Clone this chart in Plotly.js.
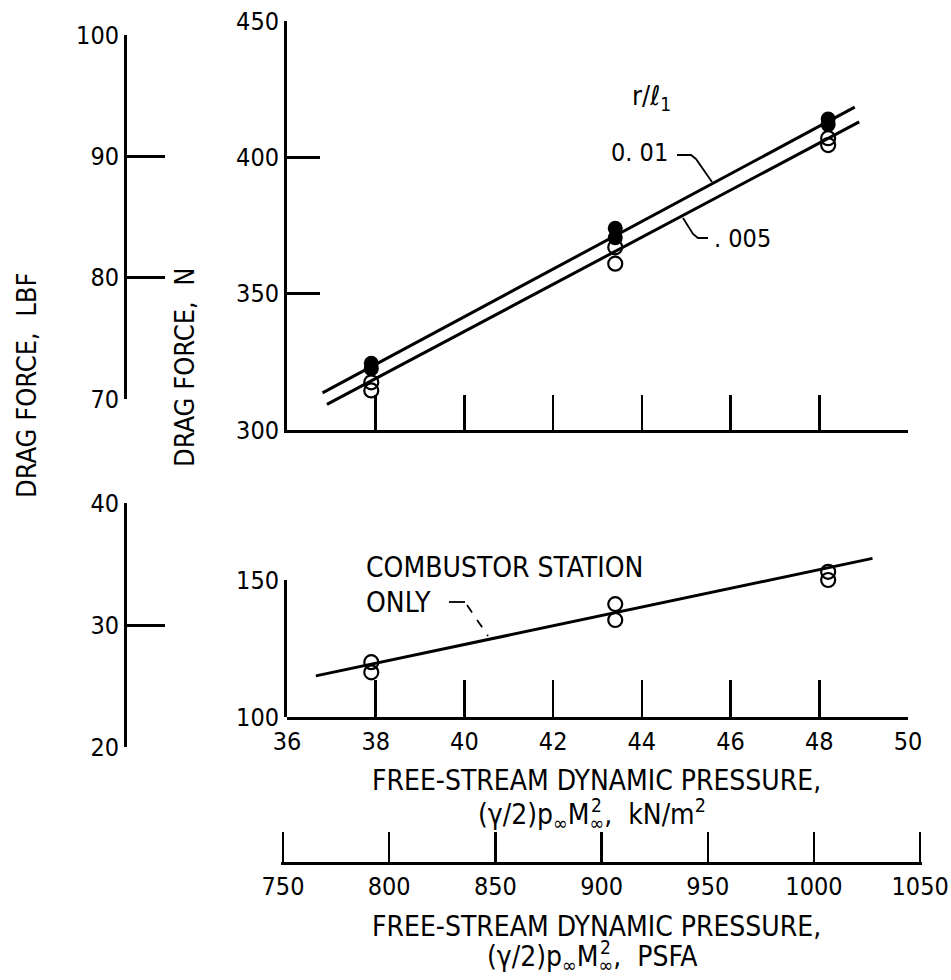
<!DOCTYPE html>
<html><head><meta charset="utf-8">
<script src="https://cdn.plot.ly/plotly-3.0.1.min.js"></script>
<style>body{margin:0;background:#fff}#chart{width:951px;height:980px}</style>
</head><body><div id="chart"></div>
<script>
// ---- tick labels ----
const kNTicks = [36, 38, 40, 42, 44, 46, 48, 50];
const psfTicks = [750, 800, 850, 900, 950, 1000, 1050];
const nTopTicks = [300, 350, 400, 450];
const nBotTicks = [100, 150];
const lbfTopTicks = [70, 80, 90, 100];
const lbfBotTicks = [20, 30, 40];

// ---- data: total drag, r/l1 = 0.01 (filled symbols) ----
const qFilled = [37.9, 37.9, 43.4, 43.4, 48.2, 48.2];
const dragFilled = [324.5, 322.5, 374, 370.5, 414, 412];
// ---- r/l1 = 0.005 (open symbols) ----
const qOpen = [37.9, 37.9, 43.4, 43.4, 48.2, 48.2];
const dragOpen = [317.5, 314.5, 367, 361, 407, 404.5];
// ---- faired lines ----
const qLine01 = [36.8, 48.8];
const dragLine01 = [313.6, 418.4];
const qLine005 = [36.9, 48.9];
const dragLine005 = [309.4, 413.0];
// ---- combustor station only ----
const qComb = [37.9, 37.9, 43.4, 43.4, 48.2, 48.2];
const dragComb = [120, 116.3, 141.2, 135.4, 153, 150];
const qCombLine = [36.65, 49.2];
const dragCombLine = [115.0, 157.9];

// ---- unit conversions ----
const N_PER_LBF = 4.44822;
const KN_PER_PSF = 0.0478803;

// ---- layout geometry (pixels) ----
const W = 951, H = 980;
const X0 = 287, X1 = 908;               // px of 36 and 50 kN/m2
const dx = p => p / W, dy = p => 1 - p / H;
const kxPx = v => X0 + (v - 36) * (X1 - X0) / 14;
const TOP300 = 430, TOPS = 2.727;
const topPx = n => TOP300 - (n - 300) * TOPS;
const BOT100 = 717, BOTS = 2.74;
const botPx = n => BOT100 - (n - 100) * BOTS;
const LBF_X = 125, PSF_Y = 863;

const FONT = "'DejaVu Sans Condensed', 'Liberation Sans Narrow', 'Liberation Sans', sans-serif";
const tickFont = {family: FONT, size: 25, color: '#000'};
const axBase = {
  showline: true, linecolor: '#000', linewidth: 3, ticks: 'inside', tickcolor: '#000',
  tickwidth: 2.5, showgrid: false, zeroline: false, fixedrange: true, tickfont: tickFont,
  tickmode: 'array'
};

const black = '#000';
const traces = [
  {x: qLine01, y: dragLine01, xaxis: 'x', yaxis: 'y', mode: 'lines', line: {color: black, width: 3}},
  {x: qLine005, y: dragLine005, xaxis: 'x', yaxis: 'y', mode: 'lines', line: {color: black, width: 3}},
  {x: qOpen, y: dragOpen, xaxis: 'x', yaxis: 'y', mode: 'markers', cliponaxis: false,
   marker: {symbol: 'circle-open', size: 14, color: black, line: {width: 2.2, color: black}}},
  {x: qFilled, y: dragFilled, xaxis: 'x', yaxis: 'y', mode: 'markers', cliponaxis: false,
   marker: {symbol: 'circle', size: 15, color: black}},
  {x: qCombLine, y: dragCombLine, xaxis: 'x2', yaxis: 'y3', mode: 'lines', line: {color: black, width: 3}},
  {x: qComb, y: dragComb, xaxis: 'x2', yaxis: 'y3', mode: 'markers', cliponaxis: false,
   marker: {symbol: 'circle-open', size: 14, color: black, line: {width: 2.2, color: black}}},
  // empty traces to register the secondary scales
  {x: [], y: [], xaxis: 'x', yaxis: 'y2', mode: 'markers'},
  {x: [], y: [], xaxis: 'x2', yaxis: 'y4', mode: 'markers'},
  {x: [], y: [], xaxis: 'x2', yaxis: 'y5', mode: 'markers'},
  {x: [], y: [], xaxis: 'x3', yaxis: 'y', mode: 'markers'}
];

const pathPx = pts => pts.map((p, i) => (i ? 'L' : 'M') + dx(p[0]).toFixed(5) + ',' + dy(p[1]).toFixed(5)).join(' ');
const lineShape = (pts, dash) => ({type: 'path', xref: 'paper', yref: 'paper', path: pathPx(pts),
  line: {color: black, width: 1.8, dash: dash || 'solid'}});

const ann = (text, px, py, opts) => Object.assign({
  text: text, x: dx(px), y: dy(py), xref: 'paper', yref: 'paper', showarrow: false,
  font: {family: FONT, size: 27, color: black}, xanchor: 'center', yanchor: 'middle'
}, opts || {});
const f28 = {family: FONT, size: 28, color: black};
const f25 = {family: FONT, size: 25, color: black};

const psfLo = 749, psfHi = 1051;
const layout = {
  width: W, height: H, margin: {l: 0, r: 0, t: 0, b: 0},
  paper_bgcolor: '#fff', plot_bgcolor: 'rgba(0,0,0,0)', showlegend: false,
  xaxis: Object.assign({}, axBase, {domain: [dx(X0), dx(X1)], range: [36, 50], anchor: 'y',
    tickvals: kNTicks.slice(1), ticktext: kNTicks.slice(1).map(String), showticklabels: false, ticklen: 35}),
  yaxis: Object.assign({}, axBase, {domain: [dy(topPx(300)), dy(topPx(450))], range: [300, 450], anchor: 'x',
    tickvals: nTopTicks, ticktext: nTopTicks.map(String), ticklen: 33}),
  yaxis2: Object.assign({}, axBase, {anchor: 'free', position: dx(LBF_X),
    domain: [dy(topPx(70 * N_PER_LBF)), dy(topPx(100 * N_PER_LBF))], range: [70, 100],
    tickvals: lbfTopTicks, ticktext: lbfTopTicks.map(String), ticklen: 38}),
  xaxis2: Object.assign({}, axBase, {domain: [dx(X0), dx(X1)], range: [36, 50], anchor: 'y3',
    tickvals: kNTicks, ticktext: kNTicks.map(String), ticklen: 37}),
  yaxis3: {domain: [dy(botPx(100)), dy(botPx(160))], range: [100, 160], anchor: 'x2', visible: false,
    showgrid: false, zeroline: false, fixedrange: true},
  yaxis4: Object.assign({}, axBase, {domain: [dy(botPx(100)), dy(botPx(150))], range: [100, 150], anchor: 'x2',
    tickvals: nBotTicks, ticktext: nBotTicks.map(String), ticklen: 33}),
  yaxis5: Object.assign({}, axBase, {anchor: 'free', position: dx(LBF_X),
    domain: [dy(botPx(20 * N_PER_LBF)), dy(botPx(40 * N_PER_LBF))], range: [20, 40],
    tickvals: lbfBotTicks, ticktext: lbfBotTicks.map(String), ticklen: 38}),
  xaxis3: Object.assign({}, axBase, {anchor: 'free', position: dy(PSF_Y),
    domain: [dx(kxPx(psfLo * KN_PER_PSF)), dx(kxPx(psfHi * KN_PER_PSF))], range: [psfLo, psfHi],
    tickvals: psfTicks, ticktext: psfTicks.map(String), ticklen: 30}),
  shapes: [
    lineShape([[677, 155], [691, 155], [696, 159], [712, 182]]),
    lineShape([[683, 218], [693, 234], [698, 238], [708, 238]]),
    lineShape([[449, 602], [465, 602]]),
    lineShape([[467, 605], [488, 636]], 'dash')
  ],
  annotations: [
    ann('DRAG FORCE,  LBF', 26, 386, {textangle: -90}),
    ann('DRAG FORCE,  N', 184, 368, {textangle: -90}),
    ann('r/ℓ<sub>1</sub>', 651, 98),
    ann('0. 01', 670, 153, {xanchor: 'right', font: f25}),
    ann('. 005', 712, 238, {xanchor: 'left', font: f25}),
    ann('COMBUSTOR STATION', 364, 567, {xanchor: 'left', font: f28}),
    ann('ONLY', 364, 602, {xanchor: 'left', font: f28}),
    ann('FREE-STREAM DYNAMIC PRESSURE,', 596, 780, {font: f28}),
    ann('(γ/2)p<sub>∞</sub>M<sub>∞</sub>,  kN/m<sup>2</sup>', 592, 814, {font: f28}),
    ann('FREE-STREAM DYNAMIC PRESSURE,', 596, 926, {font: f28}),
    ann('(γ/2)p<sub>∞</sub>M<sub>∞</sub>,  PSFA', 592, 958, {font: f28})
  ]
};

Plotly.newPlot('chart', traces, layout, {staticPlot: true, displayModeBar: false}).then(gd => {
  // stack the exponent "2" above the subscript infinity that follows M
  try {
    const box = gd.getBoundingClientRect();
    const extra = [];
    gd.querySelectorAll('.annotation-text').forEach(t => {
      const s = t.textContent;
      const iM = s.indexOf('M');
      if (iM < 0 || s.indexOf('γ') < 0) return;
      let iInf = -1;
      for (let k = iM + 1; k < s.length; k++) { if (s[k] === '∞') { iInf = k; break; } }
      if (iInf < 0) return;
      const m = t.getScreenCTM();
      const toPage = (x, y) => { const p = gd.querySelector('svg').createSVGPoint(); p.x = x; p.y = y;
        const q = p.matrixTransform(m); return [q.x - box.left, q.y - box.top]; };
      const eM = t.getExtentOfChar(iM), eI = t.getExtentOfChar(iInf);
      const cx = toPage(eI.x + eI.width / 2, eI.y)[0];
      const topM = toPage(eM.x, eM.y + eM.height * 0.22)[1];
      extra.push(ann('2', cx, topM, {font: {family: FONT, size: 19, color: black}}));
    });
    if (extra.length) Plotly.relayout(gd, {annotations: layout.annotations.concat(extra)});
  } catch (e) {}
});
</script>
</body></html>
